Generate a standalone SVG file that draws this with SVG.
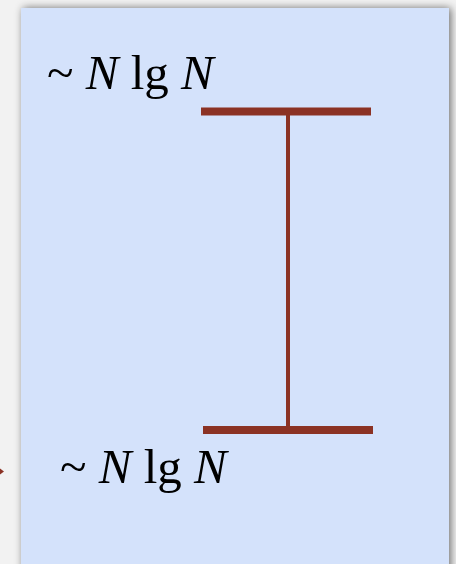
<svg xmlns="http://www.w3.org/2000/svg" width="456" height="564" viewBox="0 0 456 564">
<defs>
<filter id="sh" x="-10%" y="-10%" width="120%" height="120%">
<feGaussianBlur in="SourceAlpha" stdDeviation="4"/>
<feOffset dx="2" dy="0" result="b"/>
<feComponentTransfer><feFuncA type="linear" slope="0.55"/></feComponentTransfer>
<feMerge><feMergeNode/><feMergeNode in="SourceGraphic"/></feMerge>
</filter>
<style>
.lbl{font-family:"Liberation Serif","Times New Roman",serif;font-size:49px;fill:#000}
.it{font-style:italic}
.bar{stroke:#8b3224;stroke-width:8;fill:none}
.stem{stroke:#8b3224;stroke-width:4;fill:none}
</style>
</defs>
<rect width="456" height="564" fill="#f2f2f2"/>
<g id="panel"><rect x="21" y="8" width="428" height="570" fill="#d4e2fb" filter="url(#sh)"/></g>
<g id="connectors">
<line class="bar" x1="201" y1="111.5" x2="371" y2="111.5"/>
<line class="stem" x1="288" y1="111.5" x2="288" y2="430"/>
<line class="bar" x1="203" y1="430" x2="373" y2="430"/>
<path d="M0,468.5 L4,471.5 L0,474.5 Z" fill="#8b3224"/>
</g>
<g id="top-label"><text class="lbl" x="47" y="89">~ <tspan class="it">N</tspan> lg <tspan class="it">N</tspan></text></g>
<g id="bottom-label"><text class="lbl" x="60" y="483">~ <tspan class="it">N</tspan> lg <tspan class="it">N</tspan></text></g>
</svg>
